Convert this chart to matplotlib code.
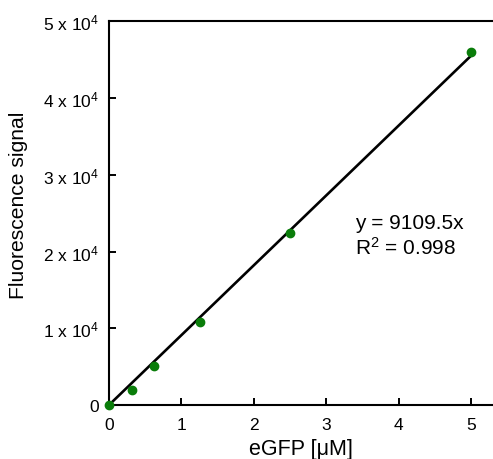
import matplotlib
matplotlib.use("Agg")
import numpy as np
import matplotlib.pyplot as plt

plt.rcParams['font.family'] = ['Liberation Sans', 'DejaVu Sans']
plt.rcParams['mathtext.fontset'] = 'custom'
plt.rcParams['mathtext.rm'] = 'Liberation Sans'
plt.rcParams['mathtext.default'] = 'regular'

# eGFP concentration [uM] and fluorescence signal
conc = [0, 0.3125, 0.625, 1.25, 2.5, 5]
signal = [0, 1950, 5100, 10800, 22450, 45950]
slope = 9109.5
r2 = 0.998

y_ticks = [0, 10000, 20000, 30000, 40000, 50000]
y_tick_labels = ['0', '1 x 10$^4$', '2 x 10$^4$', '3 x 10$^4$', '4 x 10$^4$', '5 x 10$^4$']
x_ticks = [0, 1, 2, 3, 4, 5]

fig = plt.figure(figsize=(4.93, 4.6), dpi=100)
ax = fig.add_axes([0.2211, 0.1174, 0.7789, 0.834])

xfit = np.array([0, 5])
ax.plot(xfit, slope * xfit, color='black', lw=1.9, zorder=2)
ax.plot(conc, signal, 'o', color='#0a7d0a', ms=6, zorder=3, clip_on=False)

ax.set_xlim(0, 5.3)
ax.set_ylim(0, 50000)
ax.set_xticks(x_ticks)
ax.set_yticks(y_ticks)
ax.set_yticklabels(y_tick_labels)
ax.tick_params(direction='in', length=5, width=1.4, labelsize=12.5)
ax.tick_params(axis='x', pad=9)
ax.tick_params(axis='y', pad=7)

for s in ['left', 'bottom', 'top']:
    ax.spines[s].set_linewidth(1.5)
ax.spines['right'].set_visible(False)

ax.set_xlabel('eGFP [μM]', fontsize=15.5)
ax.xaxis.set_label_coords(0.5, -0.086)
ax.set_ylabel('Fluorescence signal', fontsize=15.2)
ax.yaxis.set_label_coords(-0.21, 0.523)

ax.text(3.39, 22100, f'y = {slope}x\nR$^2$ = {r2}', fontsize=15,
        va='center', ha='left', linespacing=1.25)

fig.savefig('out.png', dpi=100)
